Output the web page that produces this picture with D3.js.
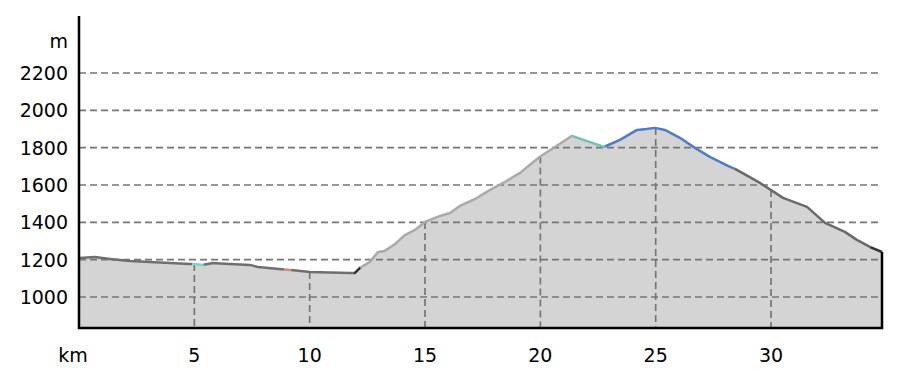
<!DOCTYPE html>
<html>
<head>
<meta charset="utf-8">
<title>Elevation profile</title>
<script src="https://d3js.org/d3.v7.min.js"></script>
<style>
body { margin: 0; background: #fff; }
text { font-family: "DejaVu Sans", sans-serif; font-size: 19px; fill: #000; }
</style>
</head>
<body>
<div id="chart"></div>
<script>
// distance (km) and elevation (m)
var km =   [0, 0.69, 1.34, 2.21, 3.08, 4.81, 4.98, 5.37, 5.81, 6.11, 7.41, 7.76, 9.15, 10.01, 11.75, 11.96, 12.18, 12.61, 12.96, 13.26, 13.70, 14.13, 14.56, 15.0, 15.65, 16.08, 16.51, 17.17, 17.82, 18.47, 19.12, 19.55, 19.98, 20.63, 21.37, 22.76, 23.45, 24.19, 24.6, 24.97, 25.40, 26.05, 26.70, 27.35, 28.13, 28.44, 29.52, 30.52, 31.56, 32.34, 33.20, 33.72, 34.29, 34.81];
var elev = [1209, 1214, 1204, 1193, 1188, 1177, 1177, 1172, 1182, 1180, 1172, 1161, 1145, 1134, 1129, 1129, 1156, 1188, 1241, 1247, 1284, 1332, 1359, 1402, 1434, 1450, 1488, 1525, 1574, 1617, 1665, 1708, 1751, 1804, 1863, 1804, 1842, 1895, 1900, 1906, 1895, 1853, 1799, 1751, 1702, 1686, 1611, 1531, 1483, 1397, 1349, 1306, 1268, 1241];

// coloured stretches of the profile line: [from km, to km, colour]
var segments = [
  [0, 4.9, "#6f6f6f"],
  [4.9, 5.4, "#7fd3cf"],
  [5.4, 8.9, "#6f6f6f"],
  [8.9, 9.2, "#c98a7a"],
  [9.2, 11.9, "#6f6f6f"],
  [11.9, 12.2, "#2e2e2e"],
  [12.2, 21.4, "#aaaaaa"],
  [21.4, 22.8, "#6cc4b0"],
  [22.8, 28.4, "#4f7cc2"],
  [28.4, 34.3, "#6a6a6a"],
  [34.3, 34.81, "#333333"]
];

var yTicks = [1000, 1200, 1400, 1600, 1800, 2000, 2200];
var xTicks = [5, 10, 15, 20, 25, 30];

var w = 915, h = 390,
    mLeft = 79, mRight = 882, mTop = 16, mBottom = 328;

var x = d3.scaleLinear().domain([0, 34.81]).range([mLeft, mRight]);
var y = d3.scaleLinear().domain([1000, 2200]).range([297, 73]);

var data = km.map(function(d, i){ return {km: d, m: elev[i]}; });

var svg = d3.select("#chart").append("svg")
  .attr("width", w)
  .attr("height", h);

var area = d3.area()
  .x(function(d){ return x(d.km); })
  .y0(mBottom)
  .y1(function(d){ return y(d.m); });

svg.append("path")
  .datum(data)
  .attr("d", area)
  .attr("fill", "#d4d4d4");

// elevation at a given km, for the vertical grid lines
var elevAt = function(k){
  var i = d3.bisector(function(d){ return d.km; }).left(data, k);
  if (i <= 0) return data[0].m;
  if (i >= data.length) return data[data.length-1].m;
  var a = data[i-1], b = data[i];
  return a.m + (b.m - a.m) * (k - a.km) / (b.km - a.km);
};

svg.append("g").selectAll("line")
  .data(yTicks)
  .enter().append("line")
  .attr("x1", mLeft).attr("x2", mRight)
  .attr("y1", function(d){ return y(d); })
  .attr("y2", function(d){ return y(d); })
  .attr("stroke", "#767676")
  .attr("stroke-width", 1.7)
  .attr("stroke-dasharray", "7,4");

svg.append("g").selectAll("line")
  .data(xTicks)
  .enter().append("line")
  .attr("x1", function(d){ return x(d); })
  .attr("x2", function(d){ return x(d); })
  .attr("y1", function(d){ return y(elevAt(d)); })
  .attr("y2", mBottom)
  .attr("stroke", "#767676")
  .attr("stroke-width", 1.7)
  .attr("stroke-dasharray", "7,4");

var line = d3.line()
  .x(function(d){ return x(d.km); })
  .y(function(d){ return y(d.m); });

segments.forEach(function(s){
  var pts = data.filter(function(d){ return d.km > s[0] && d.km < s[1]; });
  pts.unshift({km: s[0], m: elevAt(s[0])});
  pts.push({km: s[1], m: elevAt(s[1])});
  svg.append("path")
    .datum(pts)
    .attr("d", line)
    .attr("fill", "none")
    .attr("stroke", s[2])
    .attr("stroke-width", 2.5)
    .attr("stroke-linejoin", "round");
});

// frame
svg.append("path")
  .attr("d", "M" + mLeft + "," + mTop + "V" + mBottom + "H" + mRight + "V" + y(elev[elev.length-1]))
  .attr("fill", "none")
  .attr("stroke", "#000")
  .attr("stroke-width", 2.5);

svg.append("g").selectAll("text")
  .data(yTicks)
  .enter().append("text")
  .attr("x", 68)
  .attr("y", function(d){ return y(d) + 7; })
  .attr("text-anchor", "end")
  .text(function(d){ return d; });

svg.append("text").attr("x", 68).attr("y", 48).attr("text-anchor", "end").text("m");

svg.append("g").selectAll("text")
  .data(xTicks)
  .enter().append("text")
  .attr("x", function(d){ return x(d); })
  .attr("y", 362)
  .attr("text-anchor", "middle")
  .text(function(d){ return d; });

svg.append("text").attr("x", 73).attr("y", 362).attr("text-anchor", "middle").text("km");
</script>
</body>
</html>
